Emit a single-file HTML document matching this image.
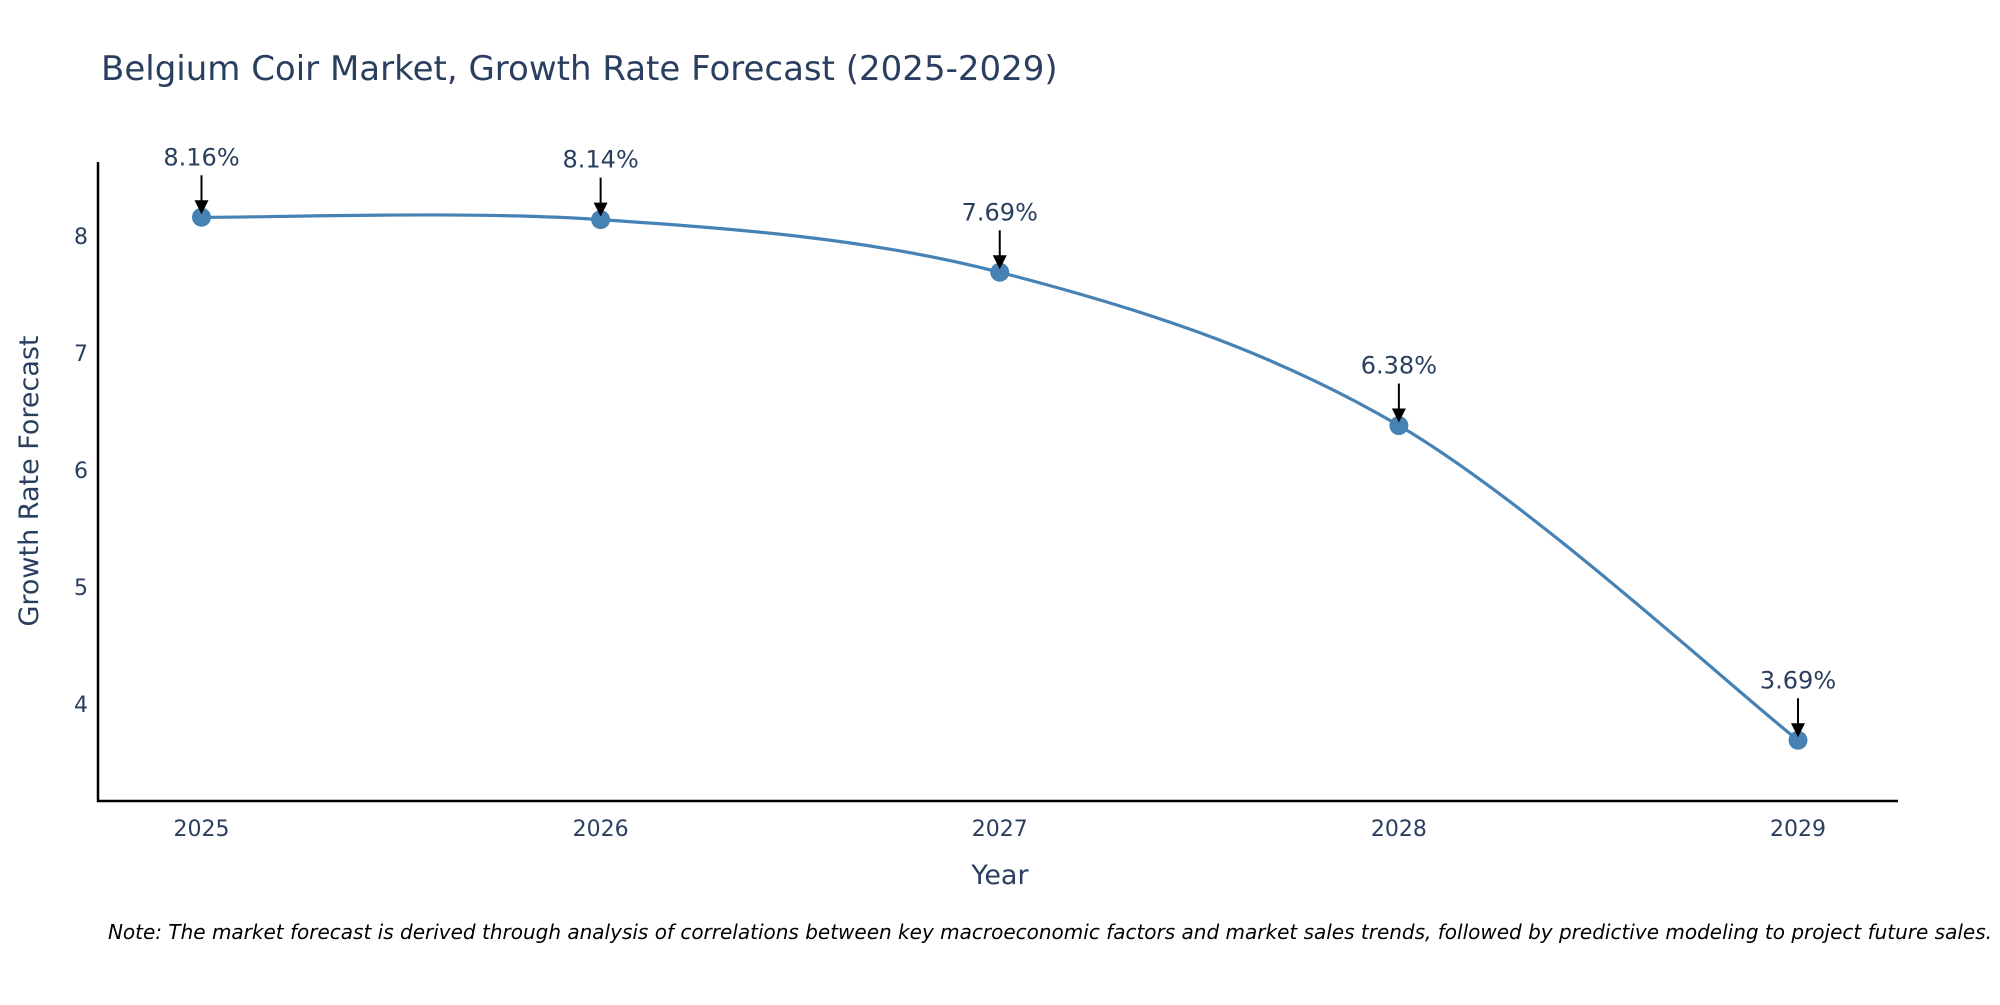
<!DOCTYPE html>
<html><head><meta charset="utf-8"><style>
body{margin:0;background:#fff;}
svg text{font-family:"DejaVu Sans","Liberation Sans",sans-serif;}
</style></head><body>
<svg id="chart" width="2000" height="1000" viewBox="0 0 2000 1000" xmlns="http://www.w3.org/2000/svg">
<rect width="2000" height="1000" fill="#fff"/>
<text x="101" y="80" font-size="34" fill="#2a3f5f">Belgium Coir Market, Growth Rate Forecast (2025-2029)</text>
<g id="plot"></g>
<line x1="98" y1="162" x2="98" y2="802" stroke="#000" stroke-width="2.5"/>
<line x1="97" y1="801" x2="1898" y2="801" stroke="#000" stroke-width="2.5"/>
<text x="1000" y="884" font-size="27" fill="#2a3f5f" text-anchor="middle">Year</text>
<text transform="translate(38,481) rotate(-90)" font-size="27" fill="#2a3f5f" text-anchor="middle">Growth Rate Forecast</text>
<text x="1992" y="939" font-size="20" font-style="italic" fill="#000" text-anchor="end">Note: The market forecast is derived through analysis of correlations between key macroeconomic factors and market sales trends, followed by predictive modeling to project future sales.</text>
</svg>
<script>
const years = ["2025","2026","2027","2028","2029"];
const growth = [8.16, 8.14, 7.69, 6.38, 3.69];
const yTicks = [4,5,6,7,8];
const labels = ["8.16%","8.14%","7.69%","6.38%","3.69%"];

const NS="http://www.w3.org/2000/svg";
const g=document.getElementById('plot');
function xPos(i){return 201.5+i*(1798-201.5)/(years.length-1);}
function yPos(v){return 236+(8-v)*117;}
function mk(t,a){const e=document.createElementNS(NS,t);for(const k in a)e.setAttribute(k,a[k]);g.appendChild(e);return e;}

yTicks.forEach(v=>{
  const t=mk('text',{x:88,y:yPos(v)+8,'font-size':22,fill:'#2a3f5f','text-anchor':'end'});
  
  
  t.textContent=v;
});
years.forEach((y,i)=>{
  const t=mk('text',{x:xPos(i),y:836,'font-size':22,fill:'#2a3f5f','text-anchor':'middle'});
  
  
  t.textContent=y;
});

const pts=growth.map((v,i)=>[xPos(i),yPos(v)]);
let d=`M${pts[0][0]},${pts[0][1]}`;
const s=0.5;
for(let i=0;i<pts.length-1;i++){
  const p0=pts[Math.max(0,i-1)],p1=pts[i],p2=pts[i+1],p3=pts[Math.min(pts.length-1,i+2)];
  const c1=[p1[0]+(p2[0]-p0[0])*s/3,p1[1]+(p2[1]-p0[1])*s/3];
  const c2=[p2[0]-(p3[0]-p1[0])*s/3,p2[1]-(p3[1]-p1[1])*s/3];
  d+=` C${c1[0]},${c1[1]} ${c2[0]},${c2[1]} ${p2[0]},${p2[1]}`;
}
const line=mk('path',{d:d,fill:'none',stroke:'#4682b4','stroke-width':3.2});



pts.forEach((p,i)=>{
  const c=mk('circle',{cx:p[0],cy:p[1],r:9.5,fill:'#4682b4'});
  
  
  const a=mk('line',{x1:p[0],y1:p[1]-42,x2:p[0],y2:p[1]-14,stroke:'#000','stroke-width':2});
  
  
  const h=mk('polygon',{points:`${p[0]-7},${p[1]-17} ${p[0]+7},${p[1]-17} ${p[0]},${p[1]-3}`,fill:'#000'});
  
  
  const t=mk('text',{x:p[0],y:p[1]-52,'font-size':24,fill:'#2a3f5f','text-anchor':'middle'});
  
  
  t.textContent=labels[i];
});
</script>
</body></html>
